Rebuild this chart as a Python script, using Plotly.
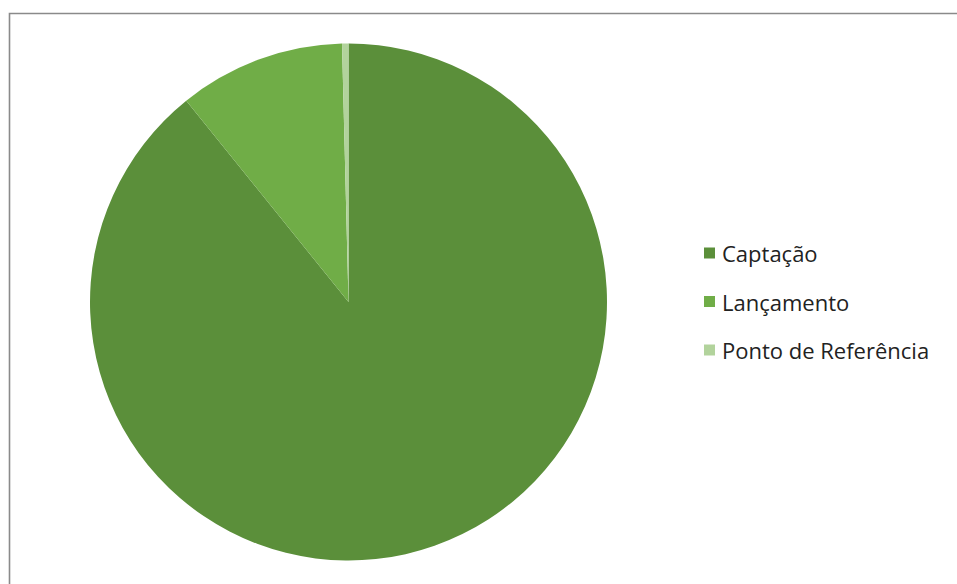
import plotly.graph_objects as go

# Share of records by point type
labels = ["Captação", "Lançamento", "Ponto de Referência"]
values = [89.2, 10.4, 0.4]
colors = ["#5b8f3a", "#70ad47", "#b2d39c"]

W, H = 957, 584

fig = go.Figure()
fig.add_trace(go.Pie(
    labels=labels,
    values=values,
    sort=False,
    direction="clockwise",
    rotation=0,
    textinfo="none",
    marker=dict(colors=colors, line=dict(width=0)),
    domain=dict(x=[90 / W, 607 / W], y=[(H - 560.5) / H, (H - 43.5) / H]),
    showlegend=False,
))

# Chart frame
shapes = [dict(type="rect", xref="paper", yref="paper",
               x0=9.5 / W, x1=1.05, y0=-0.05, y1=1 - 13.5 / H,
               line=dict(color="#8a8a8a", width=1.6), fillcolor="rgba(0,0,0,0)")]
annotations = []

# Legend drawn beside the pie
y_first, step = 253, 48.5
for i, (lab, col) in enumerate(zip(labels, colors)):
    yc = y_first + i * step
    shapes.append(dict(type="rect", xref="paper", yref="paper",
                       x0=704 / W, x1=715 / W,
                       y0=1 - (yc + 5.5) / H, y1=1 - (yc - 5.5) / H,
                       line=dict(width=0), fillcolor=col))
    annotations.append(dict(text=lab, xref="paper", yref="paper",
                            x=720 / W, y=1 - yc / H, xanchor="left", yanchor="middle",
                            showarrow=False,
                            font=dict(family="Open Sans", size=22, color="#222222")))

fig.update_layout(
    width=W, height=H,
    margin=dict(l=0, r=0, t=0, b=0),
    paper_bgcolor="white",
    shapes=shapes,
    annotations=annotations,
)

fig.write_html("out.html")
